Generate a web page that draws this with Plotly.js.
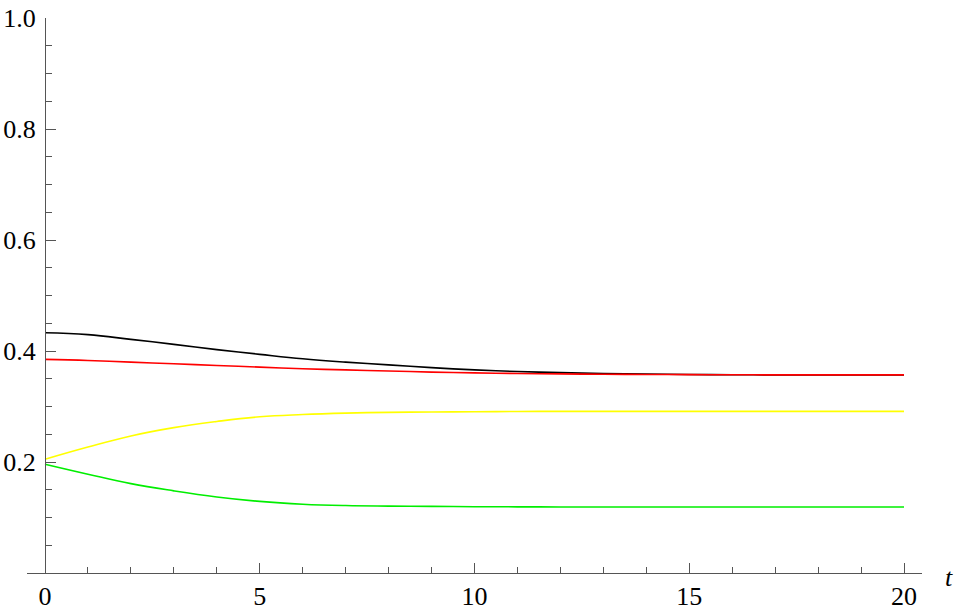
<!DOCTYPE html>
<html>
<head>
<meta charset="utf-8">
<script src="https://cdn.plot.ly/plotly-3.0.1.min.js"></script>
<style>html,body{margin:0;padding:0;background:#fff;}#chart{width:965px;height:611px;}</style>
</head>
<body>
<div id="chart"></div>
<script>
const t = [0,1,2,3,4,5,6,7,8,9,10,11,12,13,14,15,16,17,18,19,20];
const blackSeries  = [0.433,0.4295,0.421,0.412,0.4025,0.394,0.386,0.380,0.375,0.370,0.366,0.363,0.361,0.3595,0.3585,0.3577,0.3573,0.357,0.357,0.357,0.357];
const redSeries    = [0.385,0.383,0.380,0.377,0.374,0.371,0.368,0.366,0.364,0.362,0.3605,0.3595,0.3588,0.358,0.3577,0.3574,0.3572,0.357,0.357,0.357,0.357];
const yellowSeries = [0.205,0.227,0.247,0.262,0.273,0.2815,0.2855,0.288,0.2895,0.290,0.2905,0.291,0.2912,0.2913,0.2913,0.2913,0.2913,0.2913,0.2913,0.2913,0.2913];
const greenSeries  = [0.196,0.178,0.161,0.148,0.137,0.129,0.124,0.1215,0.1205,0.120,0.1195,0.1192,0.119,0.119,0.119,0.119,0.119,0.119,0.119,0.119,0.119];
const xTickVals = [0,5,10,15,20];
const xTickText = ["0","5","10","15","20"];
const yTickVals = [0.2,0.4,0.6,0.8,1.0];
const yTickText = ["0.2","0.4","0.6","0.8","1.0"];

const mk = (y, color) => ({x: t, y: y, type: 'scatter', mode: 'lines',
  line: {color: color, width: 1.6, shape: 'spline', smoothing: 1.2}, hoverinfo: 'skip', showlegend: false});

const data = [
  mk(greenSeries, '#00ee00'),
  mk(yellowSeries, '#ffff00'),
  mk(blackSeries, '#000000'),
  mk(redSeries, '#ff0000')
];

const axisColor = '#555555';
const serif = 'Liberation Serif, DejaVu Serif, serif';
const tickFont = {family: serif, size: 26, color: '#000'};

const layout = {
  width: 965, height: 611,
  margin: {l: 27, r: 43, t: 18, b: 38, pad: 0},
  paper_bgcolor: '#fff', plot_bgcolor: '#fff',
  font: {family: serif},
  xaxis: {
    range: [-0.419, 20.419], showgrid: false, zeroline: false,
    showline: true, linecolor: axisColor, linewidth: 1,
    tickmode: 'array', tickvals: xTickVals, ticktext: xTickText,
    ticks: 'inside', ticklen: 10, tickwidth: 1, tickcolor: axisColor,
    minor: {ticks: 'inside', dtick: 1, tick0: 0, ticklen: 6, tickwidth: 1, tickcolor: axisColor},
    tickfont: tickFont, ticklabelstandoff: 0,
    anchor: 'y', fixedrange: true
  },
  yaxis: {
    range: [0, 1.0], showgrid: false, zeroline: false,
    showline: true, linecolor: axisColor, linewidth: 1,
    anchor: 'free', position: 18/895, side: 'left',
    tickmode: 'array', tickvals: yTickVals, ticktext: yTickText,
    ticks: 'inside', ticklen: 10, tickwidth: 1, tickcolor: axisColor,
    minor: {ticks: 'inside', dtick: 0.05, tick0: 0, ticklen: 6, tickwidth: 1, tickcolor: axisColor},
    tickfont: tickFont, ticklabelstandoff: 4, fixedrange: true
  },
  annotations: [{
    xref: 'paper', yref: 'paper', x: (943-27)/895, y: -4/555, yanchor: 'middle', xanchor: 'left',
    text: '<i>t</i>', showarrow: false,
    font: {family: serif, size: 26, color: '#000'}
  }]
};

Plotly.newPlot('chart', data, layout, {displayModeBar: false, staticPlot: true});
</script>
</body>
</html>
